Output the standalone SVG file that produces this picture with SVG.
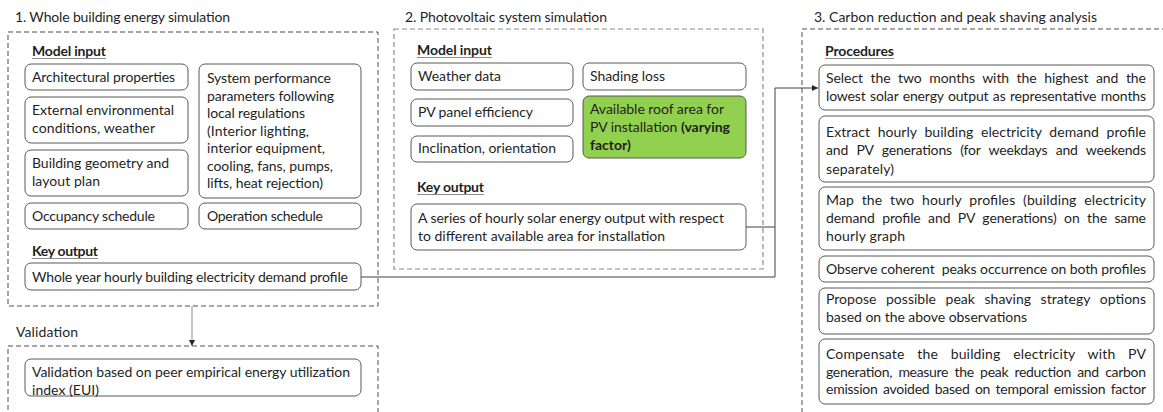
<svg xmlns="http://www.w3.org/2000/svg" width="1163" height="412" viewBox="0 0 1163 412">
<defs>
<style>
text{font-family:Lato,"Liberation Sans",sans-serif;font-size:14px;fill:#1f1f1f}
.b{font-weight:700}
.box{fill:#fff;stroke:#595959;stroke-width:1}
.green{fill:#92D050;stroke:#595959;stroke-width:1}
.dash{fill:none;stroke:#505050;stroke-width:1;stroke-dasharray:5,3}
.dash2{fill:none;stroke:#8c8c8c;stroke-width:1.2;stroke-dasharray:5,3}
.ul{stroke:#8c8c8c;stroke-width:1}
.conn{fill:none;stroke:#404040;stroke-width:1}
</style>
<marker id="arr" viewBox="0 0 6 6" refX="6" refY="3" markerWidth="6" markerHeight="6" orient="auto" markerUnits="userSpaceOnUse">
<path d="M0,0 L6,3 L0,6 z" fill="#262626"/>
</marker>
</defs>
<rect width="1163" height="412" fill="#fff"/>

<g id="section1">
<text x="15" y="22" textLength="215" lengthAdjust="spacing">1. Whole building energy simulation</text>
<rect class="dash" x="8" y="32" width="370" height="274"/>
<text class="b" x="32" y="56" textLength="74" lengthAdjust="spacing">Model input</text>
<line class="ul" x1="32" y1="58.5" x2="106" y2="58.5"/>
<text class="b" x="32" y="256" textLength="66" lengthAdjust="spacing">Key output</text>
<line class="ul" x1="32" y1="258.5" x2="98" y2="258.5"/>
</g>

<g id="n-arch">
<rect class="box" x="25" y="64" width="163" height="26" rx="6"/>
<text x="32" y="82" textLength="143" lengthAdjust="spacing">Architectural properties</text>
</g>
<g id="n-ext">
<rect class="box" x="25" y="97" width="163" height="46" rx="6"/>
<text x="32" y="115" textLength="142" lengthAdjust="spacing">External environmental</text>
<text x="32" y="133" textLength="123" lengthAdjust="spacing">conditions, weather</text>
</g>
<g id="n-geom">
<rect class="box" x="25" y="150" width="163" height="46" rx="6"/>
<text x="32" y="168" textLength="137" lengthAdjust="spacing">Building geometry and</text>
<text x="32" y="186" textLength="68" lengthAdjust="spacing">layout plan</text>
</g>
<g id="n-sys">
<rect class="box" x="199" y="64" width="162" height="134" rx="6"/>
<text x="207" y="83" textLength="124" lengthAdjust="spacing">System performance</text>
<text x="207" y="101" textLength="127" lengthAdjust="spacing">parameters following</text>
<text x="207" y="118" textLength="98" lengthAdjust="spacing">local regulations</text>
<text x="207" y="136" textLength="102" lengthAdjust="spacing">(Interior lighting,</text>
<text x="207" y="153" textLength="118" lengthAdjust="spacing">interior equipment,</text>
<text x="207" y="171" textLength="126" lengthAdjust="spacing">cooling, fans, pumps,</text>
<text x="207" y="188" textLength="116" lengthAdjust="spacing">lifts, heat rejection)</text>
</g>
<g id="n-occ">
<rect class="box" x="25" y="203" width="163" height="26" rx="6"/>
<text x="32" y="221" textLength="123" lengthAdjust="spacing">Occupancy schedule</text>
</g>
<g id="n-op">
<rect class="box" x="199" y="203" width="162" height="26" rx="6"/>
<text x="207" y="221" textLength="116" lengthAdjust="spacing">Operation schedule</text>
</g>
<g id="n-demand">
<rect class="box" x="25" y="263" width="336" height="27" rx="6"/>
<text x="32" y="282" textLength="316" lengthAdjust="spacing">Whole year hourly building electricity demand profile</text>
</g>

<g id="validation">
<text x="16" y="337" textLength="62" lengthAdjust="spacing">Validation</text>
<rect class="dash" x="8" y="346" width="370" height="90"/>
</g>
<g id="n-val">
<rect class="box" x="25" y="359" width="336" height="37" rx="6"/>
<text x="32" y="377" textLength="318" lengthAdjust="spacing">Validation based on peer empirical energy utilization</text>
<text x="32" y="395" textLength="67" lengthAdjust="spacing">index (EUI)</text>
</g>

<g id="section2">
<text x="405" y="22" textLength="202" lengthAdjust="spacing">2. Photovoltaic system simulation</text>
<rect class="dash2" x="394" y="29" width="369" height="240"/>
<text class="b" x="417" y="55" textLength="75" lengthAdjust="spacing">Model input</text>
<line class="ul" x1="417" y1="57.5" x2="492" y2="57.5"/>
<text class="b" x="417" y="192" textLength="67" lengthAdjust="spacing">Key output</text>
<line class="ul" x1="417" y1="194.5" x2="484" y2="194.5"/>
</g>
<g id="n-weather">
<rect class="box" x="411" y="63" width="162" height="27" rx="6"/>
<text x="418" y="81" textLength="83" lengthAdjust="spacing">Weather data</text>
</g>
<g id="n-shading">
<rect class="box" x="583" y="63" width="163" height="27" rx="6"/>
<text x="590" y="81" textLength="75" lengthAdjust="spacing">Shading loss</text>
</g>
<g id="n-pveff">
<rect class="box" x="411" y="99" width="162" height="27" rx="6"/>
<text x="418" y="117" textLength="115" lengthAdjust="spacing">PV panel efficiency</text>
</g>
<g id="n-roof">
<rect class="green" x="583" y="96" width="163" height="62" rx="6"/>
<text x="590" y="114" textLength="134" lengthAdjust="spacing">Available roof area for</text>
<text x="590" y="132" textLength="140" lengthAdjust="spacing">PV installation <tspan class="b">(varying</tspan></text>
<text class="b" x="590" y="150">factor)</text>
</g>
<g id="n-incl">
<rect class="box" x="411" y="136" width="162" height="26" rx="6"/>
<text x="418" y="153" textLength="138" lengthAdjust="spacing">Inclination, orientation</text>
</g>
<g id="n-series">
<rect class="box" x="411" y="204" width="335" height="46" rx="6"/>
<text x="418" y="223" textLength="306" lengthAdjust="spacing">A series of hourly solar energy output with respect</text>
<text x="418" y="241" textLength="247" lengthAdjust="spacing">to different available area for installation</text>
</g>

<g id="section3">
<text x="814" y="22" textLength="283" lengthAdjust="spacing">3. Carbon reduction and peak shaving analysis</text>
<rect class="dash" x="802" y="29" width="420" height="420"/>
<text class="b" x="825" y="56" textLength="69" lengthAdjust="spacing">Procedures</text>
<line class="ul" x1="825" y1="58.5" x2="894" y2="58.5"/>
</g>
<g id="p1">
<rect class="box" x="819" y="65" width="335" height="45" rx="6"/>
<text x="826" y="83" word-spacing="4" textLength="320" lengthAdjust="spacing">Select the two months with the highest and the</text>
<text x="826" y="101" word-spacing="1" textLength="320" lengthAdjust="spacing">lowest solar energy output as representative months</text>
</g>
<g id="p2">
<rect class="box" x="819" y="116" width="335" height="66" rx="6"/>
<text x="826" y="137" word-spacing="4" textLength="320" lengthAdjust="spacing">Extract hourly building electricity demand profile</text>
<text x="826" y="155" word-spacing="5" textLength="320" lengthAdjust="spacing">and PV generations (for weekdays and weekends</text>
<text x="826" y="174" textLength="68" lengthAdjust="spacing">separately)</text>
</g>
<g id="p3">
<rect class="box" x="819" y="187" width="335" height="63" rx="6"/>
<text x="826" y="205" word-spacing="4" textLength="320" lengthAdjust="spacing">Map the two hourly profiles (building electricity</text>
<text x="826" y="223" word-spacing="4" textLength="320" lengthAdjust="spacing">demand profile and PV generations) on the same</text>
<text x="826" y="241" textLength="79" lengthAdjust="spacing">hourly graph</text>
</g>
<g id="p4">
<rect class="box" x="819" y="256" width="335" height="26" rx="6"/>
<text x="826" y="274" textLength="320" lengthAdjust="spacing" xml:space="preserve">Observe coherent  peaks occurrence on both profiles</text>
</g>
<g id="p5">
<rect class="box" x="819" y="288" width="335" height="46" rx="6"/>
<text x="826" y="304" word-spacing="6" textLength="320" lengthAdjust="spacing">Propose possible peak shaving strategy options</text>
<text x="826" y="322" textLength="201" lengthAdjust="spacing">based on the above observations</text>
</g>
<g id="p6">
<rect class="box" x="819" y="339" width="335" height="65" rx="6"/>
<text x="826" y="359" word-spacing="9" textLength="320" lengthAdjust="spacing">Compensate the building electricity with PV</text>
<text x="826" y="377" word-spacing="3" textLength="320" lengthAdjust="spacing">generation, measure the peak reduction and carbon</text>
<text x="826" y="394" word-spacing="2" textLength="320" lengthAdjust="spacing">emission avoided based on temporal emission factor</text>
</g>

<g id="connectors">
<path class="conn" d="M361,277 H775 V88 H818" marker-end="url(#arr)"/>
<path class="conn" d="M746,227 H775"/>
<path fill="none" stroke="#8c8c8c" stroke-width="1" d="M192,306 V346" marker-end="url(#arr)"/>
</g>
</svg>
